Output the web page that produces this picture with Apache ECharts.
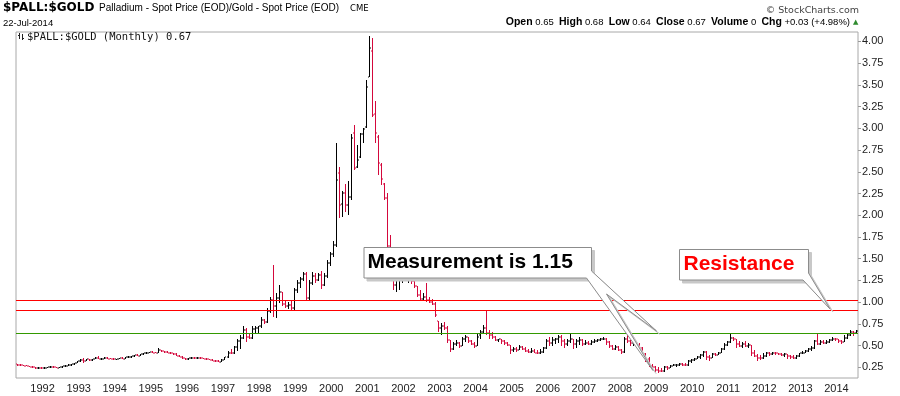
<!DOCTYPE html>
<html>
<head>
<meta charset="utf-8">
<script src="https://cdn.jsdelivr.net/npm/echarts@6/dist/echarts.min.js"></script>
<style>
html,body{margin:0;padding:0;background:#fff;}
#chart{width:900px;height:396px;}
</style>
</head>
<body>
<div id="chart"></div>
<script>
// ---- DATA (monthly bars, Apr 1991 .. Jul 2014) ----
const startYear = 1991;
const startMonth = 4;

const opens = [
  0.29,0.28,0.275,0.27,0.265,0.255,0.25,0.24,0.245,
  0.24,0.245,0.25,0.255,0.25,0.245,0.25,0.26,0.27,0.28,0.285,0.30,
  0.32,0.335,0.325,0.34,0.33,0.345,0.36,0.345,0.35,0.36,0.35,0.345,
  0.34,0.345,0.355,0.35,0.365,0.37,0.38,0.39,0.385,0.40,0.415,0.42,
  0.425,0.42,0.415,0.445,0.435,0.425,0.42,0.41,0.40,0.385,0.37,0.355,
  0.34,0.355,0.36,0.355,0.36,0.355,0.345,0.34,0.335,0.325,0.32,0.315,
  0.335,0.365,0.42,0.41,0.48,0.55,0.59,0.68,0.60,0.59,0.69,0.70,
  0.72,0.80,0.77,0.90,1.03,0.95,1.05,1.12,0.98,0.95,0.97,0.93,
  1.14,1.22,1.27,1.32,1.05,1.22,1.30,1.25,1.31,1.20,1.30,1.45,
  1.55,1.66,2.48,2.13,2.25,2.12,2.21,2.95,2.55,2.67,2.93,3.01,
  3.59,3.89,3.17,2.90,2.58,2.36,2.20,1.65,1.52,1.20,1.26,1.30,
  1.38,1.27,1.30,1.24,1.18,1.08,1.04,1.06,1.02,1.00,0.98,0.78,
  0.70,0.72,0.70,0.56,0.46,0.52,0.53,0.50,0.57,0.60,0.55,0.52,
  0.50,0.62,0.66,0.70,0.64,0.62,0.60,0.56,0.57,0.55,0.53,0.51,
  0.45,0.46,0.45,0.48,0.46,0.44,0.43,0.44,0.42,0.41,0.43,0.47,
  0.55,0.53,0.56,0.58,0.60,0.55,0.52,0.55,0.57,0.52,0.55,0.56,
  0.52,0.53,0.52,0.54,0.55,0.56,0.57,0.58,0.54,0.50,0.46,0.48,
  0.45,0.43,0.58,0.55,0.53,0.54,0.51,0.47,0.40,0.34,0.27,0.25,
  0.22,0.21,0.205,0.25,0.24,0.27,0.275,0.28,0.29,0.28,0.275,0.32,
  0.33,0.35,0.37,0.39,0.43,0.37,0.36,0.40,0.39,0.42,0.46,0.51,
  0.54,0.59,0.57,0.52,0.50,0.52,0.49,0.51,0.42,0.38,0.36,0.355,
  0.38,0.41,0.40,0.42,0.41,0.40,0.39,0.40,0.38,0.37,0.36,0.38,
  0.41,0.42,0.44,0.46,0.47,0.55,0.52,0.54,0.53,0.54,0.56,0.58,
  0.57,0.55,0.54,0.59,0.62,0.66,0.65
];
const highs = [
  0.29,0.285,0.28,0.275,0.27,0.26,0.255,0.25,0.25,
  0.25,0.255,0.26,0.26,0.255,0.255,0.265,0.275,0.285,0.29,0.305,0.325,
  0.345,0.36,0.345,0.35,0.35,0.365,0.375,0.36,0.365,0.37,0.36,0.355,
  0.35,0.36,0.365,0.37,0.38,0.385,0.395,0.40,0.405,0.42,0.43,0.43,
  0.435,0.43,0.475,0.45,0.44,0.435,0.425,0.415,0.41,0.39,0.375,0.36,
  0.36,0.365,0.37,0.365,0.37,0.36,0.355,0.35,0.34,0.335,0.33,0.34,
  0.37,0.44,0.46,0.50,0.58,0.62,0.72,0.70,0.63,0.72,0.72,0.73,
  0.83,0.81,0.93,1.06,1.43,1.10,1.20,1.12,1.02,1.00,1.01,1.16,
  1.25,1.29,1.35,1.35,1.25,1.35,1.34,1.34,1.36,1.33,1.48,1.58,
  1.70,2.83,2.56,2.28,2.36,2.39,2.93,3.04,2.81,2.95,3.00,3.56,
  4.06,4.04,3.31,2.92,2.60,2.37,2.25,1.77,1.55,1.32,1.34,1.45,
  1.40,1.33,1.33,1.29,1.19,1.14,1.10,1.22,1.06,1.04,1.00,0.78,
  0.76,0.77,0.72,0.56,0.54,0.56,0.54,0.60,0.62,0.60,0.56,0.54,
  0.63,0.68,0.74,0.91,0.68,0.66,0.61,0.58,0.57,0.56,0.54,0.51,
  0.48,0.48,0.51,0.49,0.48,0.46,0.47,0.46,0.45,0.46,0.48,0.57,
  0.60,0.60,0.59,0.62,0.62,0.58,0.57,0.64,0.58,0.57,0.60,0.58,
  0.56,0.55,0.56,0.57,0.58,0.59,0.60,0.59,0.55,0.51,0.51,0.49,
  0.46,0.60,0.64,0.56,0.56,0.55,0.53,0.48,0.41,0.37,0.29,0.27,
  0.25,0.24,0.26,0.27,0.28,0.285,0.29,0.295,0.30,0.30,0.33,0.34,
  0.36,0.38,0.40,0.44,0.44,0.39,0.42,0.42,0.43,0.47,0.53,0.55,
  0.63,0.60,0.58,0.55,0.54,0.55,0.53,0.51,0.45,0.40,0.39,0.41,
  0.43,0.43,0.43,0.43,0.42,0.42,0.41,0.40,0.39,0.39,0.39,0.42,
  0.44,0.45,0.47,0.49,0.56,0.64,0.56,0.56,0.56,0.58,0.60,0.59,
  0.58,0.56,0.62,0.64,0.68,0.67,0.68
];
const lows = [
  0.27,0.27,0.265,0.26,0.25,0.245,0.235,0.235,0.235,
  0.235,0.24,0.245,0.245,0.24,0.24,0.245,0.255,0.265,0.27,0.28,0.295,
  0.315,0.30,0.32,0.325,0.325,0.34,0.34,0.335,0.345,0.345,0.34,0.335,
  0.33,0.34,0.345,0.345,0.355,0.36,0.37,0.375,0.38,0.395,0.405,0.41,
  0.41,0.41,0.41,0.425,0.42,0.41,0.40,0.395,0.38,0.365,0.35,0.335,
  0.335,0.345,0.35,0.345,0.35,0.34,0.335,0.33,0.32,0.315,0.31,0.31,
  0.33,0.36,0.40,0.405,0.44,0.46,0.58,0.54,0.57,0.58,0.64,0.65,
  0.70,0.75,0.76,0.87,0.83,0.82,0.99,0.95,0.93,0.92,0.91,0.91,
  1.10,1.16,1.24,1.02,1.02,1.20,1.22,1.24,1.15,1.18,1.28,1.42,
  1.52,1.63,1.965,1.98,2.04,2.00,2.18,2.52,2.54,2.66,2.83,3.00,
  3.59,3.13,2.83,2.46,2.35,2.18,1.58,1.48,1.14,1.12,1.14,1.22,
  1.24,1.22,1.21,1.16,1.06,1.02,1.02,1.00,0.99,0.97,0.83,0.66,
  0.62,0.68,0.53,0.43,0.45,0.49,0.47,0.49,0.54,0.53,0.51,0.47,
  0.49,0.58,0.63,0.62,0.58,0.57,0.55,0.54,0.52,0.51,0.49,0.40,
  0.43,0.43,0.45,0.45,0.43,0.42,0.42,0.41,0.40,0.40,0.42,0.46,
  0.50,0.50,0.52,0.53,0.50,0.47,0.50,0.53,0.46,0.47,0.51,0.50,
  0.51,0.51,0.51,0.53,0.54,0.55,0.56,0.51,0.47,0.45,0.45,0.44,
  0.40,0.41,0.53,0.49,0.50,0.48,0.44,0.38,0.31,0.25,0.22,0.20,
  0.19,0.20,0.20,0.22,0.24,0.26,0.25,0.26,0.27,0.26,0.27,0.30,
  0.32,0.34,0.34,0.37,0.33,0.32,0.36,0.38,0.39,0.42,0.45,0.50,
  0.53,0.55,0.47,0.48,0.47,0.48,0.47,0.38,0.37,0.32,0.335,0.35,
  0.37,0.38,0.39,0.39,0.39,0.38,0.37,0.35,0.35,0.35,0.35,0.37,
  0.40,0.41,0.43,0.44,0.46,0.51,0.51,0.52,0.52,0.53,0.55,0.55,
  0.53,0.52,0.54,0.58,0.61,0.61,0.64
];
const closes = [
  0.28,0.275,0.27,0.265,0.255,0.25,0.24,0.245,0.24,
  0.245,0.25,0.255,0.25,0.245,0.25,0.26,0.27,0.28,0.285,0.30,0.32,
  0.335,0.325,0.34,0.33,0.345,0.36,0.345,0.35,0.36,0.35,0.345,0.34,
  0.345,0.355,0.35,0.365,0.37,0.38,0.39,0.385,0.40,0.415,0.42,0.425,
  0.42,0.415,0.445,0.435,0.425,0.42,0.41,0.40,0.385,0.37,0.355,0.34,
  0.355,0.36,0.355,0.36,0.355,0.345,0.34,0.335,0.325,0.32,0.315,0.335,
  0.365,0.42,0.41,0.48,0.55,0.59,0.68,0.60,0.59,0.69,0.70,0.72,
  0.80,0.77,0.90,1.03,0.95,1.05,1.12,0.98,0.95,0.97,0.93,1.14,
  1.22,1.27,1.32,1.05,1.22,1.30,1.25,1.31,1.20,1.30,1.45,1.55,
  1.66,2.40,2.12,2.25,2.12,2.21,2.89,2.54,2.64,2.93,2.99,3.47,
  3.92,3.15,2.95,2.60,2.42,2.20,1.65,1.52,1.20,1.26,1.30,1.38,
  1.27,1.30,1.24,1.18,1.08,1.04,1.06,1.02,1.00,0.98,0.85,0.70,
  0.72,0.70,0.56,0.46,0.52,0.53,0.50,0.57,0.60,0.55,0.52,0.49,
  0.60,0.66,0.70,0.64,0.62,0.60,0.56,0.57,0.55,0.53,0.51,0.45,
  0.46,0.45,0.48,0.46,0.44,0.43,0.44,0.42,0.41,0.43,0.47,0.55,
  0.53,0.56,0.58,0.60,0.55,0.52,0.55,0.57,0.52,0.55,0.56,0.52,
  0.53,0.52,0.54,0.55,0.56,0.57,0.58,0.54,0.50,0.46,0.48,0.45,
  0.43,0.58,0.55,0.53,0.54,0.51,0.47,0.40,0.34,0.27,0.25,0.22,
  0.21,0.205,0.25,0.24,0.27,0.275,0.28,0.29,0.28,0.275,0.32,0.33,
  0.35,0.37,0.39,0.43,0.37,0.36,0.40,0.39,0.42,0.46,0.51,0.54,
  0.59,0.57,0.52,0.50,0.52,0.49,0.51,0.42,0.38,0.36,0.355,0.38,
  0.41,0.40,0.42,0.41,0.40,0.39,0.40,0.38,0.37,0.36,0.38,0.41,
  0.42,0.44,0.46,0.47,0.55,0.52,0.54,0.53,0.54,0.56,0.58,0.57,
  0.55,0.54,0.59,0.62,0.66,0.64,0.67
];

const yTickValues = [0.25,0.5,0.75,1.0,1.25,1.5,1.75,2.0,2.25,2.5,2.75,3.0,3.25,3.5,3.75,4.0];
const yearLabels = ['1992','1993','1994','1995','1996','1997','1998','1999','2000','2001','2002','2003',
                    '2004','2005','2006','2007','2008','2009','2010','2011','2012','2013','2014'];
const resistanceLevels = [1.02, 0.906];
const supportLevels = [0.641];

// ---- build categories / data ----
const categories = [];
for (let k = 0; k < closes.length; k++) {
  const m0 = startMonth - 1 + k;
  const yr = startYear + Math.floor(m0 / 12);
  const mo = (m0 % 12) + 1;
  categories.push(yr + '-' + (mo < 10 ? '0' + mo : '' + mo));
}
const barData = closes.map((c, i) => [i, opens[i], highs[i], lows[i], c, (i === 0 || c < closes[i - 1]) ? 1 : 0]);

const RED = '#d4083c';
const BLACK = '#000000';
const FONT = '"Liberation Sans", Arial, Helvetica, sans-serif';

function renderItem(params, api) {
  const i = api.value(0);
  const pH = api.coord([i, api.value(2)]);
  const pL = api.coord([i, api.value(3)]);
  const pO = api.coord([i, api.value(1)]);
  const pC = api.coord([i, api.value(4)]);
  const color = api.value(5) === 1 ? RED : BLACK;
  const x = Math.round(pH[0] - 0.5);
  const yTop = Math.round(pH[1]);
  const yBot = Math.max(Math.round(pL[1]), yTop + 1);
  return {
    type: 'group',
    children: [
      { type: 'rect', shape: { x: x, y: yTop, width: 1, height: yBot - yTop }, style: { fill: color } },
      { type: 'rect', shape: { x: x - 1, y: Math.round(pO[1]) - 0.5, width: 1, height: 1 }, style: { fill: color } },
      { type: 'rect', shape: { x: x + 1, y: Math.round(pC[1]) - 0.5, width: 1, height: 1 }, style: { fill: color } }
    ]
  };
}

const levelLineData = resistanceLevels.map(v => ({ yAxis: v, lineStyle: { color: '#ff0000', width: 1, type: 'solid' } }))
  .concat(supportLevels.map(v => ({ yAxis: v, lineStyle: { color: '#339900', width: 1, type: 'solid' } })));

// callout geometry (annotation shapes, not data marks)
const measurePoly = [[364,247.5],[591.5,247.5],[591.5,271],[656.5,331],[606.5,294],[653,370.5],[586.5,278],[364,278]];
const resistPoly = [[679.5,249.5],[808.5,249.5],[808.5,273],[830,309],[803,280],[679.5,280]];
const shift = (pts, d) => pts.map(p => [p[0] + d, p[1] + d]);

const chart = echarts.init(document.getElementById('chart'), null, { renderer: 'canvas' });

const option = {
  animation: false,
  backgroundColor: '#ffffff',
  grid: { left: 16, right: 42, top: 32, bottom: 18, show: true, borderColor: '#a8a8a8', borderWidth: 1, backgroundColor: '#ffffff' },
  xAxis: {
    type: 'category',
    data: categories,
    boundaryGap: true,
    axisLine: { show: false },
    axisTick: { show: false },
    splitLine: { show: false },
    axisLabel: {
      interval: (idx, val) => yearLabels.indexOf(val.slice(0, 4)) >= 0 && val.slice(5) === '01',
      formatter: val => val.slice(0, 4),
      color: '#222',
      fontSize: 11,
      fontFamily: FONT,
      margin: 5,
      padding: [0, 4, 0, 0],
      hideOverlap: false
    }
  },
  yAxis: {
    type: 'value',
    position: 'right',
    min: 0.127,
    max: 4.108,
    splitLine: { show: false },
    axisLine: { show: false },
    axisTick: { show: true, length: 3, inside: false, customValues: yTickValues, lineStyle: { color: '#999' } },
    axisLabel: {
      customValues: yTickValues,
      formatter: v => v.toFixed(2),
      color: '#222',
      fontSize: 11,
      fontFamily: FONT,
      margin: 4
    }
  },
  series: [{
    type: 'custom',
    renderItem: renderItem,
    data: barData,
    encode: { x: 0, y: [1, 2, 3, 4] },
    clip: true,
    z: 3,
    markLine: {
      silent: true,
      symbol: ['none', 'none'],
      label: { show: false },
      animation: false,
      data: levelLineData
    }
  }],
  graphic: [
    // header
    { type: 'text', x: 3, y: 8, style: { text: '$PALL:$GOLD', fontFamily: '"DejaVu Sans", Verdana, sans-serif', fontWeight: 'bold', fontSize: 12, fill: '#000', verticalAlign: 'middle' } },
    { type: 'text', x: 99, y: 8.5, style: { text: 'Palladium - Spot Price (EOD)/Gold - Spot Price (EOD)', fontFamily: FONT, fontSize: 10, fill: '#000', verticalAlign: 'middle' } },
    { type: 'text', x: 350, y: 9, style: { text: 'CME', fontFamily: '"DejaVu Sans", sans-serif', fontSize: 8.5, fill: '#000', verticalAlign: 'middle' } },
    { type: 'text', x: 3, y: 23.5, style: { text: '22-Jul-2014', fontFamily: FONT, fontSize: 9.5, fill: '#000', verticalAlign: 'middle' } },
    { type: 'text', x: 859, y: 10.5, style: { text: '\u00A9 StockCharts.com', fontFamily: '"DejaVu Sans", sans-serif', fontSize: 9.5, fill: '#444', align: 'right', verticalAlign: 'middle' } },
    { type: 'text', x: 850, y: 22, style: {
        text: '{b|Open} 0.65  {b|High} 0.68  {b|Low} 0.64  {b|Close} 0.67  {b|Volume} 0  {b|Chg} +0.03 (+4.98%)',
        fontFamily: FONT, fontSize: 9.5, fill: '#000', align: 'right', verticalAlign: 'middle',
        rich: { b: { fontFamily: FONT, fontSize: 10.5, fontWeight: 'bold', fill: '#000' } }
      } },
    { type: 'text', x: 853, y: 22, style: { text: '\u25B2', fontFamily: '"DejaVu Sans", sans-serif', fontSize: 7, fill: '#2e8b2e', verticalAlign: 'middle' } },
    // inside label with icon
    { type: 'line', z: 50, shape: { x1: 19.5, y1: 33, x2: 19.5, y2: 39 }, style: { stroke: '#222', lineWidth: 1 } },
    { type: 'line', z: 50, shape: { x1: 18, y1: 35.5, x2: 19.5, y2: 35.5 }, style: { stroke: '#222', lineWidth: 1 } },
    { type: 'line', z: 50, shape: { x1: 22.5, y1: 34, x2: 22.5, y2: 40 }, style: { stroke: '#222', lineWidth: 1 } },
    { type: 'line', z: 50, shape: { x1: 22.5, y1: 38.5, x2: 24, y2: 38.5 }, style: { stroke: '#222', lineWidth: 1 } },
    { type: 'text', z: 50, x: 27, y: 37, style: { text: '$PALL:$GOLD (Monthly) 0.67', fontFamily: '"DejaVu Sans Mono", monospace', fontSize: 10.5, fill: '#111', verticalAlign: 'middle' } },
    // Measurement callout
    { type: 'polygon', z: 100, shape: { points: shift(measurePoly, 3) }, style: { fill: '#c8c8c8', stroke: '#c8c8c8', lineWidth: 1 } },
    { type: 'polygon', z: 101, shape: { points: measurePoly }, style: { fill: '#ffffff', stroke: '#8c8c8c', lineWidth: 1 } },
    { type: 'text', z: 102, x: 367.5, y: 262.5, style: { text: 'Measurement is 1.15', fontFamily: FONT, fontWeight: 'bold', fontSize: 21, fill: '#000', verticalAlign: 'middle' } },
    // Resistance callout
    { type: 'polygon', z: 100, shape: { points: shift(resistPoly, 3) }, style: { fill: '#c8c8c8', stroke: '#c8c8c8', lineWidth: 1 } },
    { type: 'polygon', z: 101, shape: { points: resistPoly }, style: { fill: '#ffffff', stroke: '#8c8c8c', lineWidth: 1 } },
    { type: 'text', z: 102, x: 683.5, y: 264.5, style: { text: 'Resistance', fontFamily: FONT, fontWeight: 'bold', fontSize: 21, fill: '#ff0000', verticalAlign: 'middle' } }
  ]
};

chart.setOption(option);
</script>
</body>
</html>
